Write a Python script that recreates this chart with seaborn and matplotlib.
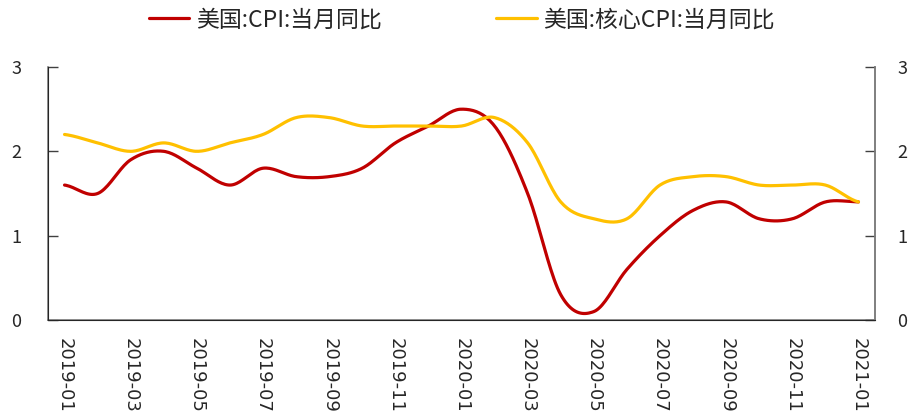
import numpy as np
import matplotlib
matplotlib.use("Agg")
import matplotlib.pyplot as plt
import seaborn as sns

# monthly data, 2019-01 .. 2021-01
months = ["2019-01", "2019-02", "2019-03", "2019-04", "2019-05", "2019-06",
          "2019-07", "2019-08", "2019-09", "2019-10", "2019-11", "2019-12",
          "2020-01", "2020-02", "2020-03", "2020-04", "2020-05", "2020-06",
          "2020-07", "2020-08", "2020-09", "2020-10", "2020-11", "2020-12",
          "2021-01"]
cpi = [1.6, 1.5, 1.9, 2.0, 1.8, 1.6, 1.8, 1.7, 1.7, 1.8, 2.1, 2.3,
       2.5, 2.3, 1.5, 0.3, 0.1, 0.6, 1.0, 1.3, 1.4, 1.2, 1.2, 1.4, 1.4]
core_cpi = [2.2, 2.1, 2.0, 2.1, 2.0, 2.1, 2.2, 2.4, 2.4, 2.3, 2.3, 2.3,
            2.3, 2.4, 2.1, 1.4, 1.2, 1.2, 1.6, 1.7, 1.7, 1.6, 1.6, 1.6, 1.4]
series_names = ["美国:CPI:当月同比", "美国:核心CPI:当月同比"]
series_colors = ["#C00000", "#FFC000"]


def smooth(y, n=20):
    # catmull-rom curve through the points (like excel's smoothed line)
    y = np.asarray(y, dtype=float)
    p = np.concatenate([[y[0]], y, [y[-1]]])
    xs, ys = [], []
    for i in range(len(y) - 1):
        p0, p1, p2, p3 = p[i], p[i + 1], p[i + 2], p[i + 3]
        t = np.linspace(0, 1, n, endpoint=False)
        v = 0.5 * (2 * p1 + (-p0 + p2) * t + (2 * p0 - 5 * p1 + 4 * p2 - p3) * t ** 2
                   + (-p0 + 3 * p1 - 3 * p2 + p3) * t ** 3)
        xs.append(i + t)
        ys.append(v)
    xs.append([len(y) - 1])
    ys.append([y[-1]])
    return np.concatenate(xs), np.concatenate(ys)


sns.set_style("white")
plt.rcParams['font.family'] = ['Noto Sans CJK SC', 'DejaVu Sans']

fig = plt.figure(figsize=(9.14, 4.19), dpi=100)
ax = fig.add_axes([48 / 914, 1 - 320 / 419, (875 - 48) / 914, (320 - 67) / 419])

for name, vals, col in zip(series_names, [cpi, core_cpi], series_colors):
    sx, sy = smooth(vals)
    sns.lineplot(x=sx, y=sy, ax=ax, color=col, linewidth=2.3, label=name, sort=False)

ax.set_xlim(-0.5, len(months) - 0.5)
ax.set_ylim(0, 3)
ax.set_yticks([0, 1, 2, 3])

ax.set_xticks(range(0, len(months), 2))
ax.set_xticklabels(months[::2], rotation=-90, family='DejaVu Sans', fontsize=13)
ax.set_xticks(np.arange(-0.5, len(months) - 1, 2), minor=True)
ax.tick_params(axis='x', which='major', length=0, pad=13)
ax.tick_params(axis='x', which='minor', length=7, width=1, color='#404040', direction='out')
ax.tick_params(axis='y', direction='in', length=7, width=1, color='#404040', pad=19, labelsize=13)

for s in ['left', 'bottom', 'right']:
    ax.spines[s].set_color('#7f7f7f')
    ax.spines[s].set_linewidth(1.2)
ax.spines['top'].set_visible(False)

ax2 = ax.twinx()
ax2.set_ylim(0, 3)
ax2.set_yticks([0, 1, 2, 3])
ax2.tick_params(axis='y', direction='in', length=7, width=1, color='#404040', pad=16, labelsize=13)
ax2.spines['top'].set_visible(False)
ax2.spines['right'].set_color('#7f7f7f')
ax2.spines['right'].set_linewidth(1.2)

ax.legend_.remove()
h, l = ax.get_legend_handles_labels()
fig.legend(h, l, loc='center', bbox_to_anchor=(462 / 914, 1 - 20 / 419), ncol=2,
           frameon=False, fontsize=16.5, handlelength=1.75, handletextpad=0.3,
           columnspacing=5.0)

fig.savefig("out.png", dpi=100)
